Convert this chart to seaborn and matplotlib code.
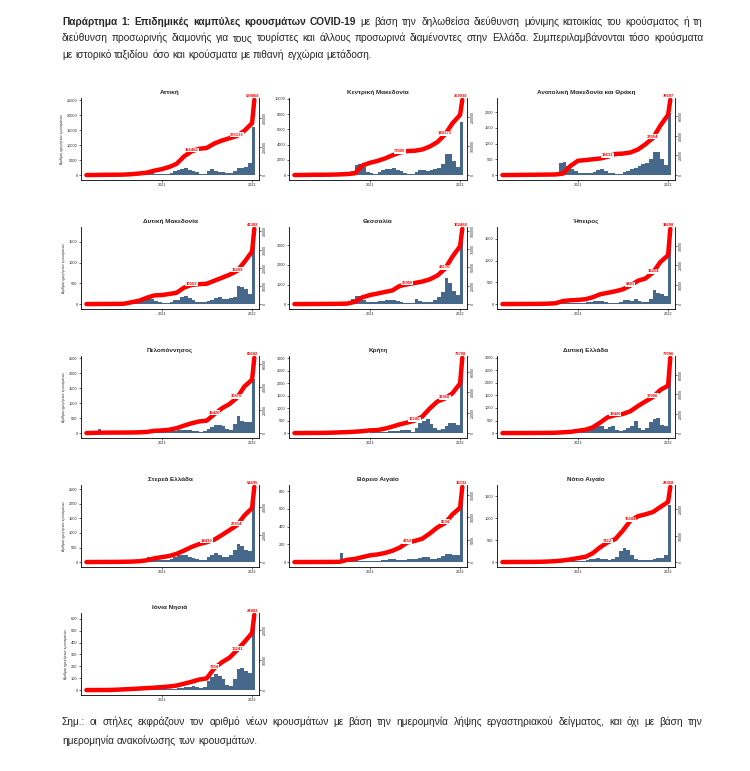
import matplotlib
matplotlib.use("Agg")
import matplotlib.pyplot as plt
import matplotlib.dates as mdates
from matplotlib.ticker import MultipleLocator, MaxNLocator
import pandas as pd
import seaborn as sns

# Time axis: half-month periods for the bars, month starts (+ last day) for the line
half_months = pd.date_range("2020-03-01", "2022-01-01", freq="SMS")
bar_edges = list(half_months) + [pd.Timestamp("2022-01-11")]
month_points = list(pd.date_range("2020-03-01", "2022-01-01", freq="MS")) + [pd.Timestamp("2022-01-10")]

# Daily new cases (per half month) and cumulative cases (per month)
attiki_daily = [5, 30, 40, 25, 10, 8, 10, 15, 20, 30, 80, 120, 150, 200, 250, 350, 700, 650, 400, 300,
                350, 400, 600, 1200, 1700, 2100, 2200, 1800, 1400, 900, 400, 300, 1500, 1900, 1500, 1100,
                900, 600, 650, 1200, 2200, 2500, 2600, 4000, 16000]
attiki_total = [0, 600, 1500, 2000, 2300, 3200, 6500, 11000, 17000, 31000, 42000, 58000, 79000, 132000,
                166482, 185000, 190500, 222000, 243000, 259000, 275133, 312000, 365000, 528868]

kmak_daily = [5, 15, 20, 10, 5, 3, 5, 10, 15, 20, 40, 60, 70, 80, 150, 500, 1300, 1500, 1000, 400,
              250, 200, 350, 600, 750, 850, 880, 700, 500, 300, 120, 100, 350, 600, 650, 580,
              600, 750, 900, 1500, 2800, 2700, 1900, 1100, 7000]
kmak_total = [0, 300, 800, 1000, 1100, 1500, 2400, 3500, 6000, 33000, 42500, 49000, 57000, 68000,
              77609, 83000, 84000, 88500, 99000, 114000, 140173, 179000, 208000, 259938]

amth_daily = [2, 8, 10, 5, 3, 2, 3, 5, 8, 10, 15, 20, 20, 25, 40, 380, 420, 280, 200, 120,
              70, 50, 50, 70, 110, 150, 180, 140, 80, 50, 30, 40, 90, 120, 200, 220,
              300, 340, 380, 520, 740, 720, 500, 330, 1970]
amth_total = [0, 50, 150, 250, 300, 400, 500, 600, 1500, 9200, 14600, 15300, 16100, 16900,
              18631, 21500, 21900, 23000, 26100, 31400, 37854, 50600, 61400, 76697]

dmak_daily = [0, 1, 2, 1, 0, 0, 0, 1, 2, 3, 5, 10, 15, 30, 80, 150, 160, 120, 80, 40,
              30, 35, 60, 90, 110, 170, 200, 150, 90, 60, 40, 45, 70, 100, 140, 180,
              130, 120, 140, 160, 440, 400, 360, 250, 1570]
dmak_total = [0, 20, 60, 80, 90, 200, 1030, 1860, 3500, 4760, 4970, 5590, 6210, 9100,
              10553, 10970, 11170, 12830, 14480, 16140, 18209, 23170, 28970, 41382]

thess_daily = [1, 3, 5, 3, 2, 1, 1, 2, 4, 5, 10, 15, 20, 25, 60, 250, 430, 400, 200, 120,
               110, 120, 150, 170, 200, 220, 200, 170, 100, 60, 40, 60, 260, 180, 120, 110,
               130, 200, 350, 600, 1320, 1100, 690, 450, 3170]
thess_total = [0, 30, 100, 150, 200, 300, 400, 600, 3100, 9200, 12300, 14400, 16400, 18500,
               24600, 26950, 28700, 30700, 33800, 38900, 48170, 64570, 78900, 102488]

ipeir_daily = [0, 1, 2, 1, 0, 0, 1, 1, 2, 3, 5, 8, 12, 15, 30, 60, 40, 25, 20, 15,
               20, 25, 40, 55, 60, 75, 70, 50, 35, 25, 20, 40, 100, 90, 80, 115,
               70, 55, 50, 110, 330, 260, 240, 190, 1420]
ipeir_total = [0, 20, 50, 70, 90, 120, 200, 390, 1550, 1940, 2130, 2520, 3480, 5030,
               5800, 6580, 7550, 9481, 12000, 13160, 16254, 21670, 25150, 38698]

pelop_daily = [3, 8, 15, 146, 10, 3, 2, 3, 5, 8, 10, 15, 20, 25, 35, 50, 60, 45, 35, 30,
               35, 45, 60, 80, 90, 110, 110, 100, 70, 55, 50, 70, 120, 200, 280, 260,
               225, 150, 110, 300, 560, 400, 380, 360, 1800]
pelop_total = [0, 200, 350, 400, 420, 450, 500, 650, 1000, 1970, 2300, 2960, 4270, 6570,
               8540, 10180, 10840, 16420, 21680, 25290, 30870, 40720, 46630, 65682]

kriti_daily = [1, 3, 2, 1, 0, 0, 1, 3, 8, 15, 20, 25, 20, 20, 25, 40, 45, 35, 25, 20,
               30, 30, 40, 45, 60, 80, 100, 100, 120, 140, 110, 60, 200, 410, 500, 550,
               380, 200, 120, 150, 275, 385, 390, 330, 2480]
kriti_total = [0, 50, 120, 150, 200, 400, 700, 900, 1330, 1850, 2660, 2950, 4280, 6270,
               8490, 10330, 12180, 16240, 24350, 30990, 33950, 39110, 48710, 73798]

dell_daily = [1, 3, 4, 2, 1, 1, 1, 2, 4, 6, 8, 10, 12, 15, 25, 40, 50, 40, 45, 60,
              65, 70, 90, 190, 245, 270, 270, 150, 230, 300, 130, 90, 120, 200, 270, 475,
              200, 110, 200, 450, 570, 615, 340, 300, 2390]
dell_total = [0, 30, 60, 80, 100, 150, 200, 310, 770, 1230, 2310, 3470, 5780, 10790,
              16190, 18420, 19510, 22360, 27750, 32380, 37006, 44330, 48570, 77096]

stell_daily = [1, 3, 3, 2, 1, 1, 1, 2, 4, 8, 12, 20, 25, 30, 60, 120, 160, 130, 90, 70,
               60, 70, 110, 180, 230, 260, 240, 190, 130, 90, 60, 80, 180, 260, 300, 240,
               180, 160, 230, 400, 620, 560, 420, 380, 2100]
stell_total = [0, 30, 80, 100, 120, 200, 350, 600, 1300, 2700, 3600, 4500, 6000, 8400,
               11000, 13100, 14410, 16300, 19700, 23200, 26814, 33900, 39300, 54695]

vaig_daily = [0, 0, 0, 0, 0, 0, 0, 1, 2, 2, 3, 5, 100, 20, 10, 12, 18, 15, 12, 10,
              10, 12, 15, 22, 28, 32, 30, 25, 20, 25, 35, 40, 30, 45, 60, 55,
              40, 35, 45, 70, 95, 90, 80, 75, 700]
vaig_total = [0, 5, 10, 15, 20, 30, 60, 500, 700, 1100, 1500, 1700, 2000, 2500,
              3200, 4352, 4700, 5200, 6400, 7700, 8694, 10600, 12100, 16732]

naig_daily = [0, 1, 1, 1, 0, 0, 1, 2, 5, 8, 10, 8, 10, 12, 15, 20, 25, 20, 15, 15,
              20, 30, 40, 60, 80, 90, 80, 60, 50, 70, 120, 250, 320, 280, 150, 80,
              50, 40, 40, 50, 70, 90, 100, 150, 1300]
naig_total = [0, 20, 40, 50, 60, 100, 200, 350, 600, 1000, 1500, 2000, 3300, 5600,
              7412, 8650, 11800, 15584, 17300, 18000, 18900, 20800, 22700, 28368]

ionia_daily = [0, 1, 1, 0, 0, 0, 0, 1, 2, 4, 5, 6, 6, 7, 8, 10, 12, 10, 8, 8,
               8, 10, 10, 12, 15, 20, 25, 25, 35, 30, 15, 30, 77, 110, 135, 120,
               90, 40, 35, 90, 180, 190, 160, 140, 550]
ionia_total = [0, 10, 20, 30, 125, 250, 375, 500, 670, 800, 1000, 1200, 1500, 2120,
               2750, 3500, 3870, 7254, 9240, 10740, 13241, 15990, 18990, 24983]

region_names = ["Αττική", "Κεντρική Μακεδονία", "Ανατολική Μακεδονία και Θράκη",
                "Δυτική Μακεδονία", "Θεσσαλία", "Ήπειρος",
                "Πελοπόννησος", "Κρήτη", "Δυτική Ελλάδα",
                "Στερεά Ελλάδα", "Βόρειο Αιγαίο", "Νότιο Αιγαίο",
                "Ιόνια Νησιά"]
daily_series = [attiki_daily, kmak_daily, amth_daily, dmak_daily, thess_daily, ipeir_daily,
                pelop_daily, kriti_daily, dell_daily, stell_daily, vaig_daily, naig_daily, ionia_daily]
total_series = [attiki_total, kmak_total, amth_total, dmak_total, thess_total, ipeir_total,
                pelop_total, kriti_total, dell_total, stell_total, vaig_total, naig_total, ionia_total]
# months whose cumulative value is written on the red line (the last point is always labelled)
label_months = [(14, 20), (14, 20), (14, 20), (14, 20), (15, 20), (17, 20), (17, 20),
                (16, 20), (15, 20), (16, 20), (15, 20), (14, 17), (17, 20)]

# left (daily) axis scale for each panel
left_top = [25800, 10100, 2450, 1860, 3940, 1770, 2570, 3100, 3070, 2650, 870, 1750, 650]
left_step = [5000, 2000, 500, 500, 1000, 500, 500, 500, 500, 500, 200, 500, 100]

header_bold = "Παράρτημα 1:  Επιδημικές καμπύλες κρουσμάτων COVID-19"
header_rest = "με βάση την δηλωθείσα διεύθυνση μόνιμης κατοικίας του κρούσματος ή τη"
header_2 = ("διεύθυνση προσωρινής διαμονής για τους τουρίστες και άλλους προσωρινά "
            "διαμένοντες στην Ελλάδα.  Συμπεριλαμβάνονται τόσο κρούσματα")
header_3 = "με ιστορικό ταξιδίου όσο και κρούσματα με πιθανή εγχώρια μετάδοση."
note_1 = ("Σημ.:  οι στήλες εκφράζουν τον αριθμό νέων κρουσμάτων με βάση την ημερομηνία "
          "λήψης εργαστηριακού δείγματος, και όχι με βάση την")
note_2 = "ημερομηνία ανακοίνωσης των κρουσμάτων."

BLUE = "#46698B"
RED = "#FF0000"
W, H = 750, 771

sns.set_style("ticks")
plt.rcParams["font.family"] = ["Liberation Sans", "DejaVu Sans"]

fig = plt.figure(figsize=(W / 100, H / 100), dpi=100)
renderer = fig.canvas.get_renderer()

bar_x = list(mdates.date2num(half_months))
bin_x = list(mdates.date2num(bar_edges))
line_x = list(mdates.date2num(month_points))

col_left = [81, 289, 497]
row_top = [98, 227, 356, 485, 613]
ax_w, ax_h = 178, 82
pad = 0.064

for k, name in enumerate(region_names):
    row, col = divmod(k, 3)
    ax = fig.add_axes([col_left[col] / W, 1 - (row_top[row] + ax_h) / H, ax_w / W, ax_h / H])

    # daily new cases as bars
    bars = pd.DataFrame({"day": bar_x, "cases": daily_series[k]})
    sns.histplot(data=bars, x="day", weights="cases", bins=bin_x, element="step", fill=True,
                 color=BLUE, alpha=1, linewidth=0, ax=ax)
    ax.set_ylim(-pad * left_top[k], left_top[k])
    ax.yaxis.set_major_locator(MultipleLocator(left_step[k]))
    ax.set_xlim(mdates.date2num(pd.Timestamp("2020-02-08")), mdates.date2num(pd.Timestamp("2022-01-29")))
    ax.set_xticks(mdates.date2num([pd.Timestamp("2021-01-01"), pd.Timestamp("2022-01-01")]))
    ax.set_xticklabels(["2021", "2022"])
    ax.set_xlabel("")
    ax.set_ylabel("Αριθμός ημερήσιων κρουσμάτων" if col == 0 else "", fontsize=2.4, labelpad=2)
    ax.tick_params(labelsize=2.8, length=1.5, width=0.5, pad=1)
    ax.set_title(name, fontsize=4.6, fontweight="bold", pad=3)
    for side in ["top", "right"]:
        ax.spines[side].set_visible(False)
    for side in ["left", "bottom"]:
        ax.spines[side].set_linewidth(0.6)
        ax.spines[side].set_color("black")

    # cumulative cases as the red line on a second axis
    total = total_series[k]
    ax2 = ax.twinx()
    sns.lineplot(x=line_x, y=total, color=RED, linewidth=3.2, ax=ax2)
    top2 = total[-1] * 1.025
    ax2.set_ylim(-pad * top2, top2)
    ax2.yaxis.set_major_locator(MaxNLocator(nbins=5, steps=[1, 2, 2.5, 5, 10]))
    ax2.ticklabel_format(axis="y", style="plain", useOffset=False)
    ax2.tick_params(axis="y", labelsize=2.6, labelrotation=90, length=1.5, width=0.5, pad=1)
    for lab in ax2.get_yticklabels():
        lab.set_verticalalignment("center")
    for side in ["top", "left", "bottom"]:
        ax2.spines[side].set_visible(False)
    ax2.spines["right"].set_linewidth(0.6)
    ax2.spines["right"].set_color("black")

    box = dict(facecolor="white", edgecolor="none", pad=0.3)
    for m in label_months[k]:
        ax2.annotate(f"{total[m]}", (line_x[m], total[m]), xytext=(0, 1), textcoords="offset points",
                     ha="center", va="center", fontsize=3, color=RED, fontweight="bold", bbox=box)
    ax2.annotate(f"{total[-1]}", (line_x[-1], total[-1]), xytext=(-1, 1.5), textcoords="offset points",
                 ha="center", va="bottom", fontsize=3, color=RED, fontweight="bold", bbox=box)


# header and footnote, justified between 62 px and 703 px like the report text
fs = 7.3
x_left, x_right = 62, 703


def put_line(y_px, parts, justify=True):
    words = [(w, wt) for text, wt in parts for w in text.split()]
    texts = [fig.text(0, 1 - y_px / H, w, fontsize=fs, fontweight=wt, va="center") for w, wt in words]
    widths = [t.get_window_extent(renderer).width for t in texts]
    gap = (x_right - x_left - sum(widths)) / (len(texts) - 1) if justify else fs * 0.28 * 100 / 72
    x = x_left
    for t, wdt in zip(texts, widths):
        t.set_x(x / W)
        x += wdt + gap


put_line(22, [(header_bold, "bold"), (header_rest, "normal")])
put_line(38, [(header_2, "normal")])
put_line(55, [(header_3, "normal")], justify=False)
put_line(722, [(note_1, "normal")])
put_line(741, [(note_2, "normal")], justify=False)

fig.savefig("out.png", dpi=100)
